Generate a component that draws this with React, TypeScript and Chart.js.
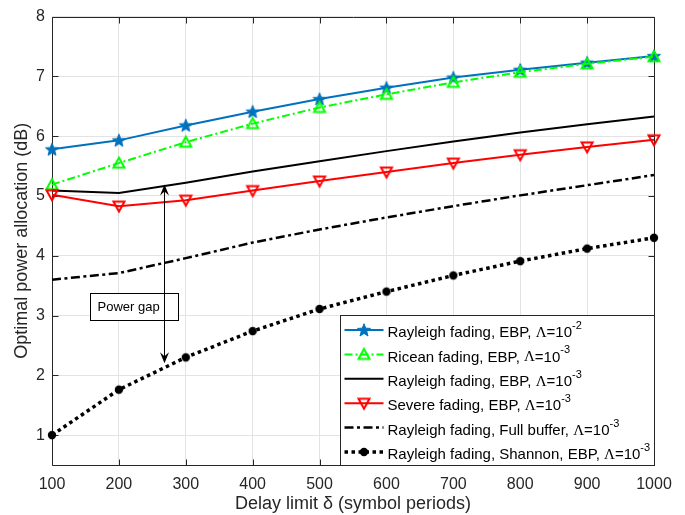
import React, { useEffect, useRef } from 'react';
import { Chart, registerables } from 'chart.js';

Chart.register(...registerables);

// ---------- data ----------
const delayLimits = [100, 200, 300, 400, 500, 600, 700, 800, 900, 1000];
const rayleighEbp2 = [5.78, 5.93, 6.18, 6.41, 6.62, 6.81, 6.98, 7.11, 7.23, 7.34];
const riceanEbp3 = [5.19, 5.55, 5.9, 6.21, 6.48, 6.7, 6.9, 7.07, 7.21, 7.33];
const rayleighEbp3 = [5.09, 5.05, 5.22, 5.41, 5.58, 5.75, 5.91, 6.06, 6.2, 6.33];
const severeEbp3 = [5.02, 4.83, 4.93, 5.09, 5.25, 5.4, 5.55, 5.69, 5.82, 5.94];
const rayleighFullBuffer3 = [3.6, 3.71, 3.96, 4.22, 4.44, 4.64, 4.83, 5.01, 5.18, 5.35];
const rayleighShannon3 = [1.0, 1.76, 2.3, 2.74, 3.11, 3.4, 3.67, 3.91, 4.12, 4.3];

const xTicks = [100, 200, 300, 400, 500, 600, 700, 800, 900, 1000];
const yTicks = [1, 2, 3, 4, 5, 6, 7, 8];

const legendNames = [
  'Rayleigh fading, EBP, ',
  'Ricean fading, EBP, ',
  'Rayleigh fading, EBP, ',
  'Severe fading, EBP, ',
  'Rayleigh fading, Full buffer, ',
  'Rayleigh fading, Shannon, EBP, ',
];
const legendExponents = ['-2', '-3', '-3', '-3', '-3', '-3'];

const xTitle = 'Delay limit δ (symbol periods)';
const yTitle = 'Optimal power allocation (dB)';

// annotation (data units)
const gapLabel = 'Power gap';
const gapArrowX = 267;
const gapArrowTop = 5.19;
const gapArrowBottom = 2.2;
const gapBox = { x0: 157, x1: 288, y0: 2.92, y1: 3.38 };

const SANS = '"Liberation Sans", Arial, sans-serif';
const SERIF = '"Liberation Serif", "Times New Roman", serif';
const AXIS_COLOR = '#262626';

function makeCanvas(size: number) {
  const c = document.createElement('canvas');
  c.width = size;
  c.height = size;
  return c;
}

function makeStar(color: string) {
  const c = makeCanvas(20);
  const g = c.getContext('2d')!;
  g.beginPath();
  for (let i = 0; i < 10; i++) {
    const r = i % 2 === 0 ? 6.8 : 2.9;
    const a = -Math.PI / 2 + (i * Math.PI) / 5;
    const px = 10 + r * Math.cos(a);
    const py = 10.5 + r * Math.sin(a);
    if (i === 0) g.moveTo(px, py);
    else g.lineTo(px, py);
  }
  g.closePath();
  g.fillStyle = color;
  g.fill();
  g.strokeStyle = color;
  g.lineWidth = 1;
  g.stroke();
  return c;
}

function makeTriangle(color: string, down: boolean) {
  const c = makeCanvas(18);
  const g = c.getContext('2d')!;
  g.beginPath();
  if (!down) {
    g.moveTo(9, 3.5);
    g.lineTo(14.5, 13.5);
    g.lineTo(3.5, 13.5);
  } else {
    g.moveTo(9, 14.5);
    g.lineTo(14.5, 4.5);
    g.lineTo(3.5, 4.5);
  }
  g.closePath();
  g.strokeStyle = color;
  g.lineWidth = 2;
  g.lineJoin = 'miter';
  g.stroke();
  return c;
}

function makeDot(color: string) {
  const c = makeCanvas(12);
  const g = c.getContext('2d')!;
  g.beginPath();
  g.arc(6, 6, 4.2, 0, Math.PI * 2);
  g.fillStyle = color;
  g.fill();
  return c;
}

export default function App() {
  const ref = useRef<HTMLCanvasElement | null>(null);

  useEffect(() => {
    if (!ref.current) return;

    const star = makeStar('#0072BD');
    const triUp = makeTriangle('#00FF00', false);
    const triDown = makeTriangle('#FF0000', true);
    const dot = makeDot('#000000');

    const toPts = (arr: number[]) => delayLimits.map((x, i) => ({ x, y: arr[i] }));

    const seriesStyles: any[] = [
      { data: rayleighEbp2, color: '#0072BD', width: 2, dash: [], marker: star },
      { data: riceanEbp3, color: '#00FF00', width: 2, dash: [8, 3, 2, 3], marker: triUp },
      { data: rayleighEbp3, color: '#000000', width: 2, dash: [], marker: null },
      { data: severeEbp3, color: '#FF0000', width: 2, dash: [], marker: triDown },
      { data: rayleighFullBuffer3, color: '#000000', width: 2.5, dash: [9, 3.5, 3, 3.5], marker: null },
      { data: rayleighShannon3, color: '#000000', width: 3.5, dash: [3.5, 3.5], marker: dot },
    ];

    const datasets = seriesStyles.map((s, i) => ({
      label: legendNames[i],
      data: toPts(s.data),
      borderColor: s.color,
      backgroundColor: s.color,
      borderWidth: s.width,
      borderDash: s.dash,
      borderCapStyle: 'butt',
      pointStyle: s.marker || 'circle',
      pointRadius: s.marker ? 6 : 0,
      pointHoverRadius: s.marker ? 6 : 0,
      tension: 0,
      clip: false,
      order: 6 - i,
    }));

    const framePlugin = {
      id: 'frameTicks',
      beforeDatasetsDraw(chart: any) {
        const { ctx, chartArea: a, scales } = chart;
        const x = scales.x;
        const y = scales.y;
        ctx.save();
        ctx.strokeStyle = AXIS_COLOR;
        ctx.lineWidth = 1;
        const L = Math.round(a.left) + 0.5;
        const R = Math.round(a.right) + 0.5;
        const T = Math.round(a.top) + 0.5;
        const B = Math.round(a.bottom) + 0.5;
        ctx.beginPath();
        ctx.rect(L, T, R - L, B - T);
        ctx.stroke();
        ctx.beginPath();
        for (const v of xTicks) {
          const px = Math.round(x.getPixelForValue(v)) + 0.5;
          ctx.moveTo(px, B);
          ctx.lineTo(px, B - 6);
          ctx.moveTo(px, T);
          ctx.lineTo(px, T + 6);
        }
        for (const v of yTicks) {
          const py = Math.round(y.getPixelForValue(v)) + 0.5;
          ctx.moveTo(L, py);
          ctx.lineTo(L + 6, py);
          ctx.moveTo(R, py);
          ctx.lineTo(R - 6, py);
        }
        ctx.stroke();
        ctx.restore();
      },
    };

    const drawHead = (ctx: CanvasRenderingContext2D, x: number, tipY: number, dir: number) => {
      ctx.beginPath();
      ctx.moveTo(x, tipY);
      ctx.lineTo(x - 4.5, tipY + dir * 11);
      ctx.lineTo(x, tipY + dir * 7);
      ctx.lineTo(x + 4.5, tipY + dir * 11);
      ctx.closePath();
      ctx.fill();
    };

    const annotationPlugin = {
      id: 'powerGap',
      afterDatasetsDraw(chart: any) {
        const { ctx, scales } = chart;
        const x = scales.x;
        const y = scales.y;
        ctx.save();
        const bx0 = Math.round(x.getPixelForValue(gapBox.x0)) + 0.5;
        const bx1 = Math.round(x.getPixelForValue(gapBox.x1)) + 0.5;
        const by0 = Math.round(y.getPixelForValue(gapBox.y1)) + 0.5;
        const by1 = Math.round(y.getPixelForValue(gapBox.y0)) + 0.5;
        ctx.fillStyle = '#ffffff';
        ctx.fillRect(bx0, by0, bx1 - bx0, by1 - by0);
        ctx.strokeStyle = '#000000';
        ctx.lineWidth = 1;
        ctx.strokeRect(bx0, by0, bx1 - bx0, by1 - by0);
        ctx.fillStyle = '#000000';
        ctx.font = '13px ' + SANS;
        ctx.textAlign = 'left';
        ctx.textBaseline = 'middle';
        ctx.fillText(gapLabel, bx0 + 7, (by0 + by1) / 2 + 0.5);
        const ax = Math.round(x.getPixelForValue(gapArrowX)) + 0.5;
        const ty = y.getPixelForValue(gapArrowTop);
        const byy = y.getPixelForValue(gapArrowBottom);
        ctx.beginPath();
        ctx.moveTo(ax, ty + 6);
        ctx.lineTo(ax, byy - 6);
        ctx.stroke();
        drawHead(ctx, ax, ty, 1);
        drawHead(ctx, ax, byy, -1);
        ctx.restore();
      },
    };

    const legendPlugin = {
      id: 'customLegend',
      afterDraw(chart: any) {
        const { ctx, chartArea: a } = chart;
        const w = 314;
        const h = 150;
        const right = Math.round(a.right) + 0.5;
        const bottom = Math.round(a.bottom) + 0.5;
        const left = right - w;
        const top = bottom - h;
        ctx.save();
        ctx.fillStyle = '#ffffff';
        ctx.fillRect(left, top, w, h);
        ctx.strokeStyle = AXIS_COLOR;
        ctx.lineWidth = 1;
        ctx.strokeRect(left, top, w, h);
        seriesStyles.forEach((s, i) => {
          const cy = top + 14.5 + i * 24.4;
          ctx.save();
          ctx.strokeStyle = s.color;
          ctx.lineWidth = s.width;
          ctx.setLineDash(s.dash);
          ctx.lineCap = 'butt';
          ctx.beginPath();
          ctx.moveTo(left + 4, cy);
          ctx.lineTo(left + 43, cy);
          ctx.stroke();
          ctx.restore();
          if (s.marker) {
            const m = s.marker as HTMLCanvasElement;
            ctx.drawImage(m, left + 23.5 - m.width / 2, cy - m.height / 2);
          }
          let tx = left + 47;
          const ty = cy + 3;
          ctx.fillStyle = '#000000';
          ctx.textAlign = 'left';
          ctx.textBaseline = 'middle';
          ctx.font = '15px ' + SANS;
          ctx.fillText(legendNames[i], tx, ty);
          tx += ctx.measureText(legendNames[i]).width;
          ctx.font = '15px ' + SERIF;
          ctx.fillText('Λ', tx, ty);
          tx += ctx.measureText('Λ').width;
          ctx.font = '15px ' + SANS;
          ctx.fillText('=10', tx, ty);
          tx += ctx.measureText('=10').width;
          ctx.font = '11px ' + SANS;
          ctx.fillText(legendExponents[i], tx, ty - 7);
        });
        ctx.restore();
      },
    };

    const chart = new Chart(ref.current, {
      type: 'line',
      data: { datasets: datasets as any },
      options: {
        animation: false,
        responsive: false,
        devicePixelRatio: 1,
        layout: { padding: { top: 15, right: 31, left: 0, bottom: 0 } },
        plugins: {
          legend: { display: false },
          tooltip: { enabled: false },
        },
        scales: {
          x: {
            type: 'linear',
            min: 100,
            max: 1000,
            afterBuildTicks: (scale: any) => {
              scale.ticks = xTicks.map((value) => ({ value }));
            },
            afterFit: (scale: any) => {
              scale.height = 50;
            },
            grid: { color: '#e3e3e3', drawTicks: false, lineWidth: 1 },
            border: { display: false },
            ticks: {
              color: AXIS_COLOR,
              font: { family: SANS, size: 16 },
              padding: 10,
              maxRotation: 0,
              autoSkip: false,
              callback: (v: any) => String(v),
            },
            title: {
              display: true,
              text: xTitle,
              color: AXIS_COLOR,
              font: { family: SANS, size: 18 },
              padding: { top: 0, bottom: 0 },
            },
          },
          y: {
            type: 'linear',
            min: 0.5,
            max: 8,
            afterBuildTicks: (scale: any) => {
              scale.ticks = yTicks.map((value) => ({ value }));
            },
            afterFit: (scale: any) => {
              scale.width = 52;
            },
            grid: { color: '#e3e3e3', drawTicks: false, lineWidth: 1 },
            border: { display: false },
            ticks: {
              color: AXIS_COLOR,
              font: { family: SANS, size: 16 },
              padding: 7,
              autoSkip: false,
              callback: (v: any) => String(v),
            },
            title: {
              display: true,
              text: yTitle,
              color: AXIS_COLOR,
              font: { family: SANS, size: 18 },
              padding: { top: 11, bottom: 0 },
            },
          },
        },
      },
      plugins: [framePlugin, annotationPlugin, legendPlugin],
    });

    return () => chart.destroy();
  }, []);

  return (
    <div style={{ position: 'fixed', left: 0, top: 0, width: 685, height: 515, background: '#ffffff' }}>
      <canvas ref={ref} width={685} height={515} style={{ display: 'block', width: 685, height: 515 }} />
    </div>
  );
}
